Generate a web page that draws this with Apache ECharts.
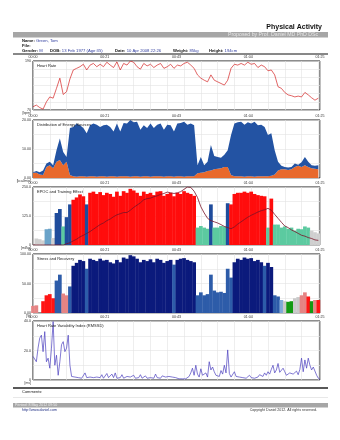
<!DOCTYPE html>
<html>
<head>
<meta charset="utf-8">
<script src="https://cdn.jsdelivr.net/npm/echarts@6/dist/echarts.min.js"></script>
<style>
html,body{margin:0;padding:0;background:#fff;}
#report{width:340px;height:440px;}
</style>
</head>
<body>
<div id="report"></div>
<script>
// ---- Session data (one sample per minute unless noted) ----
const sessionMinutes = 85.5;
const timeTicks = [0, 21.375, 42.75, 64.125, 85.5];
const timeLabels = ['00:00', '00:21', '00:43', '01:04', '01:25'];

// Heart rate [bpm], per minute
const heartRate = [
  78, 82, 76, 72, 90, 102, 99, 123, 148, 108,
  115, 146, 168, 172, 176, 182, 168, 180, 184, 176,
  182, 176, 187, 180, 174, 188, 168, 184, 180, 190,
  187, 176, 170, 184, 178, 182, 174, 180, 184, 172,
  176, 182, 172, 180, 178, 184, 187, 180, 172, 156,
  148, 143, 139, 156, 143, 139, 135, 131, 143, 172,
  182, 180, 184, 180, 187, 182, 184, 174, 180, 176,
  166, 168, 156, 127, 123, 113, 107, 105, 102, 104,
  102, 113, 107, 100, 94, 99
];

// Energy from fat and from carbohydrates [kcal/min], per minute
const fatEnergy = [
  1.8, 1.8, 1.2, 1.0, 3.8, 4.4, 3.4, 5.6, 6.2, 4.4,
  5.6, 1.0, 0.6, 0.4, 0.6, 0.6, 0.4, 0.6, 0.6, 0.4,
  0.6, 0.6, 0.4, 0.6, 0.6, 0.4, 0.6, 0.6, 0.6, 0.4,
  0.6, 0.6, 0.4, 0.6, 0.6, 0.4, 0.6, 0.6, 0.6, 0.4,
  0.6, 0.6, 0.4, 0.6, 0.6, 0.4, 0.6, 0.6, 0.6, 1.6,
  1.8, 2.0, 2.4, 2.6, 3.0, 3.2, 3.4, 3.8, 3.8, 1.0,
  0.6, 0.6, 0.6, 0.4, 0.6, 0.6, 0.4, 0.6, 0.6, 0.6,
  0.6, 0.8, 1.2, 2.6, 3.0, 3.0, 2.8, 3.0, 3.8, 4.2,
  3.8, 4.4, 3.8, 3.4, 3.2, 3.0
];
const carbEnergy = [
  0.2, 0.6, 0.8, 1.6, 1.2, 1.2, 1.0, 4.0, 7.4, 4.6,
  1.6, 16.2, 17.0, 18.4, 17.6, 16.6, 15.0, 17.6, 18.2, 18.0,
  17.0, 17.6, 18.0, 17.0, 15.4, 18.4, 15.4, 18.4, 18.2, 19.6,
  18.6, 18.8, 16.2, 17.6, 16.6, 18.4, 16.6, 17.8, 18.2, 16.2,
  17.8, 17.6, 15.6, 18.2, 18.4, 19.0, 17.8, 18.2, 17.6, 2.8,
  5.4, 2.4, 3.2, 8.8, 4.6, 4.0, 3.6, 4.2, 5.8, 13.8,
  18.2, 18.6, 18.8, 18.0, 18.6, 18.2, 19.0, 17.6, 17.8, 17.0,
  14.2, 14.6, 8.4, 3.0, 1.2, 0.8, 0.8, 0.8, 1.2, 0.4,
  1.6, 2.8, 1.8, 1.0, 1.0, 1.4
];

// Training effect intensity per minute and its zone
// g = light, lb = easy, db = moderate, t = recovery, r = high
const trainingLoad = [
  0, 28, 25, 20, 68, 70, 30, 138, 155, 80,
  120, 175, 195, 205, 218, 210, 175, 225, 230, 220,
  228, 215, 225, 220, 208, 230, 212, 232, 225, 242,
  235, 225, 212, 230, 220, 225, 215, 230, 232, 212,
  220, 225, 210, 225, 220, 232, 225, 220, 212, 75,
  82, 75, 70, 175, 75, 75, 82, 80, 180, 175,
  220, 225, 225, 230, 225, 230, 220, 215, 212, 210,
  75, 200, 88, 88, 75, 80, 70, 75, 62, 70,
  68, 80, 75, 62, 55, 50
];
const trainingZone = [
  'g', 'g', 'g', 'g', 'lb', 'lb', 'g', 'db', 'db', 't',
  'db', 'db', 'r', 'r', 'r', 'r', 'db', 'r', 'r', 'r',
  'r', 'r', 'r', 'r', 'r', 'r', 'r', 'r', 'r', 'r',
  'r', 'r', 'r', 'r', 'r', 'r', 'r', 'r', 'r', 'r',
  'r', 'r', 'r', 'r', 'r', 'r', 'r', 'r', 'r', 't',
  't', 't', 't', 'db', 't', 't', 't', 't', 'db', 'r',
  'r', 'r', 'r', 'r', 'r', 'r', 'r', 'r', 'r', 'r',
  't', 'r', 't', 't', 't', 't', 't', 't', 't', 't',
  't', 't', 't', 'g', 'g', 'g'
];
// Accumulated EPOC [ml/kg], per minute
const epoc = [
  0, 0, 0, 0, 0, 0, 0, 0, 0, 0,
  5, 10, 18, 25, 35, 42, 50, 58, 68, 78,
  88, 95, 105, 112, 122, 130, 135, 140, 140, 150,
  162, 172, 182, 195, 200, 202, 208, 212, 218, 222,
  228, 225, 222, 225, 230, 240, 250, 248, 232, 205,
  165, 138, 115, 105, 100, 95, 88, 80, 75, 70,
  78, 90, 100, 110, 120, 128, 135, 142, 148, 152,
  158, 150, 132, 115, 98, 82, 75, 65, 58, 50,
  42, 38, 32, 28, 22, 20
];

// Stress / recovery level per minute and its state
// pk = light stress, r = stress, b = activity, n = high activity,
// lb = light activity, gy = neutral, gn = recovery
const stressLevel = [
  12, 13, 0, 20, 30, 32, 25, 55, 65, 33,
  30, 45, 80, 85, 90, 88, 75, 92, 90, 88,
  92, 89, 90, 86, 84, 90, 86, 94, 92, 98,
  96, 92, 86, 90, 88, 91, 86, 92, 90, 85,
  88, 90, 82, 90, 92, 93, 90, 88, 86, 30,
  35, 30, 32, 65, 38, 35, 36, 34, 75, 60,
  86, 92, 90, 94, 92, 93, 88, 90, 86, 80,
  85, 78, 30, 28, 22, 20, 19, 20, 25, 27,
  30, 35, 28, 20, 22, 22
];
const stressState = [
  'pk', 'pk', 'pk', 'r', 'r', 'r', 'r', 'b', 'b', 'pk',
  'pk', 'b', 'n', 'n', 'n', 'n', 'b', 'n', 'n', 'n',
  'n', 'n', 'n', 'n', 'n', 'n', 'n', 'n', 'n', 'n',
  'n', 'n', 'n', 'n', 'n', 'n', 'n', 'n', 'n', 'n',
  'n', 'n', 'b', 'n', 'n', 'n', 'n', 'n', 'n', 'b',
  'b', 'b', 'b', 'b', 'b', 'b', 'b', 'b', 'b', 'b',
  'n', 'n', 'n', 'n', 'n', 'n', 'n', 'n', 'n', 'b',
  'n', 'n', 'b', 'b', 'lb', 'gy', 'gn', 'gn', 'gy', 'gy',
  'pk', 'pk', 'r', 'gn', 'pk', 'r'
];

// RMSSD [ms], one sample every half minute
const rmssdStep = 0.5;
const rmssd = [
  16, 14.8, 12.4, 21.6, 28.4, 30.4, 19.2, 32.8, 12.4, 14.8,
  8, 21.6, 39.6, 10, 16.8, 3.2, 12.4, 24, 26, 19.2,
  21.6, 30.4, 10, 2.4, 3.2, 2, 2.8, 1.6, 2.4, 1.2,
  2, 4.8, 1.6, 1.2, 2, 0.8, 1.6, 1.2, 2, 3.2,
  1.6, 3.6, 1.2, 2, 4.4, 1.6, 1.2, 4, 1.6, 4.8,
  1.2, 2, 1.6, 3.6, 1.2, 1.6, 2.4, 1.2, 2, 0.8,
  3.2, 1.2, 2.4, 1.6, 3.6, 1.2, 2, 2.8, 1.2, 2.4,
  1.6, 2, 1.2, 4, 1.6, 2.4, 1.2, 2.8, 1.6, 2,
  0.8, 2.4, 1.2, 2, 0.8, 1.6, 1.2, 0.8, 1.6, 0.8,
  1.2, 0.8, 1.6, 2.4, 4.8, 8, 3.2, 10, 4, 2,
  7.6, 3.2, 2.4, 4.8, 2, 12.4, 6.8, 8.8, 5.6, 3.2,
  4.4, 2.4, 6.4, 4, 10, 4.8, 20.4, 4.4, 2, 3.2,
  5.6, 2.4, 1.2, 2, 3.2, 1.6, 2.4, 1.2, 2, 3.2,
  1.6, 2.8, 1.2, 2.4, 2, 3.6, 4.4, 2.4, 4.8, 3.2,
  5.6, 4, 7.2, 10, 4.8, 6.8, 11.2, 5.2, 4.4, 8,
  5.6, 3.2, 3.6, 4.8, 5.6, 4, 4.4, 6, 3.6, 7.2,
  14.8, 5.6, 13.6, 8, 14.8, 10, 6.8, 8.8, 7.6, 3.2,
  1.2, 0.4
];

// ---- Styling ----
const FONT = '"Liberation Sans", Arial, sans-serif';
const zoneColors = { g: '#cfcfcf', lb: '#6aa3c9', db: '#1f4c9c', t: '#5ccaa0', r: '#ff0c0c' };
const stateColors = { pk: '#e58484', r: '#ff1414', b: '#2d5ca9', n: '#0b1a7c', lb: '#7fa9d8', gy: '#c9c9c9', gn: '#129a12' };

const panels = [
  { top: 61, height: 49, title: 'Heart Rate', unit: '[bpm]', min: 70, max: 190, gridStep: 20, labelStep: 120, fmt: v => String(v) },
  { top: 120, height: 58, title: 'Distribution of Energy Sources', unit: '[kcal/min]', min: 0, max: 20, gridStep: 5, labelStep: 10, fmt: v => v.toFixed(2) },
  { top: 187, height: 58, title: 'EPOC and Training Effect', unit: '[ml/kg]', min: 0, max: 250, gridStep: 62.5, labelStep: 125, fmt: v => v === 0 ? '0' : v.toFixed(1) },
  { top: 254, height: 59, title: 'Stress and Recovery', unit: '[%]', min: 0, max: 100, gridStep: 25, labelStep: 50, fmt: v => v.toFixed(2) },
  { top: 321, height: 59, title: 'Heart Rate Variability Index (RMSSD)', unit: '[ms]', min: 0, max: 40, gridStep: 10, labelStep: 20, fmt: v => v === 0 ? '0' : v.toFixed(1) }
];
const LEFT = 33, WIDTH = 287;
const BAR_PX = 3.7; // one-minute column, slightly overlapping its neighbours

const grids = [], xAxes = [], yAxes = [], titles = [];
panels.forEach((p, i) => {
  grids.push({ left: LEFT, top: p.top, width: WIDTH, height: p.height, show: true,
    borderColor: '#1a1a1a', borderWidth: 1, backgroundColor: '#fff' });
  // grid lines every 5 minutes
  xAxes.push({ gridIndex: i, type: 'value', min: 0, max: sessionMinutes, interval: 5,
    axisLine: { show: false }, axisTick: { show: false }, axisLabel: { show: false },
    splitLine: { show: true, lineStyle: { color: '#e2e2e2', width: 0.6 } } });
  // clock labels along the top
  xAxes.push({ gridIndex: i, type: 'value', position: 'top', min: 0, max: sessionMinutes, interval: sessionMinutes / 4,
    axisLine: { show: false }, axisTick: { show: false }, splitLine: { show: false },
    axisLabel: { show: true, fontSize: 3.6, fontFamily: FONT, color: '#333', margin: 2,
      formatter: v => { const k = timeTicks.findIndex(t => Math.abs(t - v) < 0.01); return k >= 0 ? timeLabels[k] : ''; } } });
  yAxes.push({ gridIndex: i, type: 'value', position: 'left', min: p.min, max: p.max, interval: p.gridStep,
    axisLine: { show: false }, axisTick: { show: false }, axisLabel: { show: false },
    splitLine: { show: true, lineStyle: { color: '#e2e2e2', width: 0.6 } } });
  yAxes.push({ gridIndex: i, type: 'value', position: 'left', min: p.min, max: p.max, interval: p.labelStep,
    axisLine: { show: false }, axisTick: { show: false }, splitLine: { show: false },
    axisLabel: { show: true, fontSize: 3.6, fontFamily: FONT, color: '#333', margin: 2, formatter: p.fmt } });
  titles.push({ type: 'text', left: LEFT + 4, top: p.top + 3, z: 50,
    style: { text: p.title, font: '4px ' + FONT, fill: '#222' } });
  titles.push({ type: 'text', x: LEFT - 2, y: p.top + p.height + 2, z: 50,
    style: { text: p.unit, font: '3.4px ' + FONT, fill: '#333', textAlign: 'right', textVerticalAlign: 'top' } });
});

const perMinute = arr => arr.map((v, i) => [i, v]);
// value first, minute second: stacking then runs along the energy axis
const perMinuteValueFirst = arr => arr.map((v, i) => [v, i]);
const axisRef = i => ({ xAxisIndex: 2 * i, yAxisIndex: 2 * i });

const series = [
  Object.assign({ type: 'line', name: 'Heart Rate', data: perMinute(heartRate), symbol: 'none',
    lineStyle: { color: '#d42222', width: 0.7 } }, axisRef(0)),
  Object.assign({ type: 'line', name: 'Fat', stack: 'energy', data: perMinuteValueFirst(fatEnergy), encode: { x: 1, y: 0 },
    symbol: 'none', lineStyle: { width: 0 }, areaStyle: { color: '#e8692c', opacity: 1 } }, axisRef(1)),
  Object.assign({ type: 'line', name: 'Carbohydrates', stack: 'energy', data: perMinuteValueFirst(carbEnergy), encode: { x: 1, y: 0 },
    symbol: 'none', lineStyle: { width: 0 }, areaStyle: { color: '#2353a3', opacity: 1 } }, axisRef(1)),
  Object.assign({ type: 'bar', name: 'Training Effect', data: perMinute(trainingLoad), barWidth: BAR_PX,
    itemStyle: { color: p => zoneColors[trainingZone[p.dataIndex]] } }, axisRef(2)),
  Object.assign({ type: 'line', name: 'EPOC', data: perMinute(epoc), symbol: 'none', z: 5,
    lineStyle: { color: '#7a1428', width: 0.8 } }, axisRef(2)),
  Object.assign({ type: 'bar', name: 'Stress and Recovery', data: perMinute(stressLevel), barWidth: BAR_PX,
    itemStyle: { color: p => stateColors[stressState[p.dataIndex]] } }, axisRef(3)),
  Object.assign({ type: 'line', name: 'RMSSD', data: rmssd.map((v, i) => [i * rmssdStep, v]), symbol: 'none',
    lineStyle: { color: '#4a3fbf', width: 0.7 } }, axisRef(4))
];

// ---- Report header and footer ----
const richLabel = {
  b: { fontWeight: 'bold', fontSize: 4.2, fontFamily: FONT, fill: '#111' },
  v: { fontSize: 4.2, fontFamily: FONT, fill: '#3340a0' }
};
const infoText = (x, y, text) => ({ type: 'text', x, y, z: 50,
  style: { text, rich: richLabel, font: '4.2px ' + FONT, textVerticalAlign: 'middle' } });

const decor = [
  { type: 'text', x: 322, y: 27, z: 50, style: { text: 'Physical Activity', font: 'bold 7px ' + FONT, fill: '#111', textAlign: 'right', textVerticalAlign: 'middle' } },
  { type: 'rect', shape: { x: 13, y: 32, width: 315, height: 5.5 }, style: { fill: '#a6a6a6' } },
  { type: 'text', x: 318, y: 34.9, z: 50, style: { text: 'Proposed by Prof. Daniel MD PhD DSc', font: '5.2px ' + FONT, fill: '#e6e6e6', textAlign: 'right', textVerticalAlign: 'middle' } },
  infoText(22, 40.5, '{b|Name:} {v|Green, Tom}'),
  infoText(22, 45.5, '{b|File:}'),
  infoText(22, 51, '{b|Gender:} {v|M}'),
  infoText(50, 51, '{b|DOB:} {v|13 Feb 1977 (Age:35)}'),
  infoText(115, 51, '{b|Date:} {v|10 Apr 2008 22:26}'),
  infoText(173, 51, '{b|Weight:} {v|85kg}'),
  infoText(209, 51, '{b|Height:} {v|194cm}'),
  { type: 'line', shape: { x1: 13, y1: 54, x2: 328, y2: 54 }, style: { stroke: '#111', lineWidth: 1 } },
  { type: 'line', shape: { x1: 13, y1: 388, x2: 328, y2: 388 }, style: { stroke: '#222', lineWidth: 1.4 } },
  { type: 'text', x: 22, y: 391.5, z: 50, style: { text: 'Comments:', font: '4px ' + FONT, fill: '#222', textVerticalAlign: 'middle' } },
  { type: 'line', shape: { x1: 13, y1: 397.5, x2: 328, y2: 397.5 }, style: { stroke: '#d8d8d8', lineWidth: 0.6 } },
  { type: 'rect', shape: { x: 13, y: 403, width: 315, height: 4.5 }, style: { fill: '#a6a6a6' } },
  { type: 'text', x: 15, y: 405.3, z: 50, style: { text: 'Printed: 8 May 2012 09:50', font: '3.6px ' + FONT, fill: '#eeeeee', textVerticalAlign: 'middle' } },
  { type: 'text', x: 22, y: 409.8, z: 50, style: { text: 'http://www.daniel.com', font: '3.6px ' + FONT, fill: '#1a2a80', textVerticalAlign: 'middle' } },
  { type: 'text', x: 317, y: 409.8, z: 50, style: { text: 'Copyright Daniel 2012. All rights reserved.', font: '3.6px ' + FONT, fill: '#333', textAlign: 'right', textVerticalAlign: 'middle' } }
];

const chart = echarts.init(document.getElementById('report'), null, { renderer: 'canvas', width: 340, height: 440 });
chart.setOption({
  animation: false,
  backgroundColor: '#fff',
  grid: grids,
  xAxis: xAxes,
  yAxis: yAxes,
  series,
  graphic: { elements: decor.concat(titles) }
});
</script>
</body>
</html>
